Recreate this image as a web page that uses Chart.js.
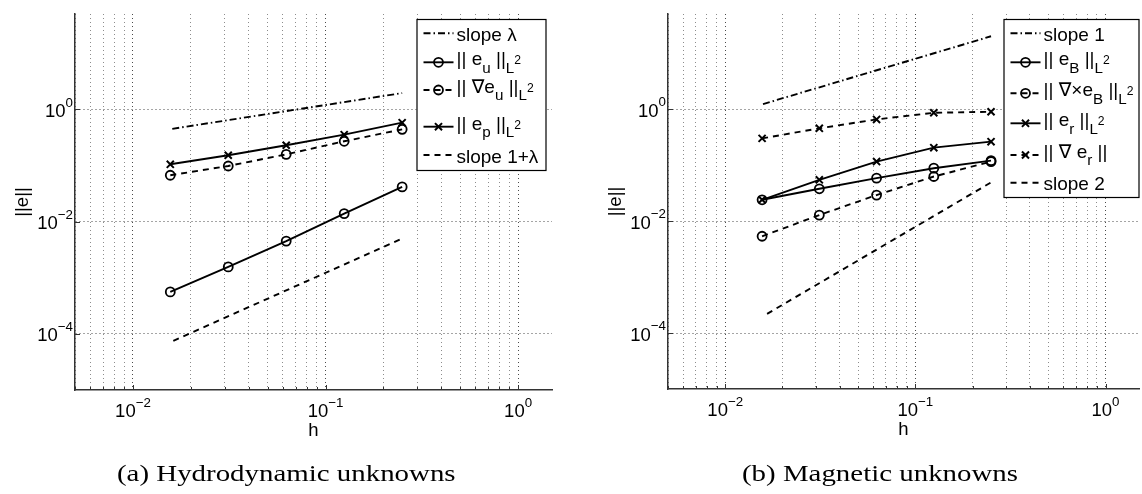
<!DOCTYPE html>
<html>
<head>
<meta charset="utf-8">
<script src="https://cdn.jsdelivr.net/npm/chart.js@4.4.0/dist/chart.umd.min.js"></script>
<style>
    html, body { margin: 0; padding: 0; background: #fff; width: 1142px; height: 494px; overflow: hidden; }
    canvas { position: absolute; top: 0; }
    #chartA { left: 0; }
    #chartB { left: 571px; }
    .caption {
        position: absolute; top: 463px; display: inline-block; white-space: nowrap;
        font-family: "Liberation Serif", "DejaVu Serif", serif; font-size: 22.5px; line-height: 1;
        color: #000; transform-origin: 0 0;
    }
</style>
</head>
<body>
<canvas id="chartA" width="571" height="494"></canvas>
<canvas id="chartB" width="575" height="494"></canvas>
<span class="caption" id="capA" style="left:117px">(a) Hydrodynamic unknowns</span>
<span class="caption" id="capB" style="left:740px">(b) Magnetic unknowns</span>
<script>
// mesh sizes h
const hValues = [0.015625, 0.03125, 0.0625, 0.125, 0.25];

// (a) hydrodynamic unknowns
const euL2 = [5.6e-4, 1.56e-3, 4.5e-3, 0.0139, 0.0415];
const gradEuL2 = [0.067, 0.098, 0.158, 0.27, 0.44];
const epL2 = [0.105, 0.152, 0.229, 0.354, 0.58];
const slopeLambdaH = [0.016, 0.25];
const slopeLambda = [0.45, 1.95];
const slopeOnePlusLambdaH = [0.0162, 0.25];
const slopeOnePlusLambda = [7.5e-5, 5.0e-3];

// (b) magnetic unknowns
const eBL2 = [0.024, 0.0377, 0.0584, 0.088, 0.12];
const curlEBL2 = [0.00535, 0.0128, 0.0291, 0.0625, 0.115];
const erL2 = [0.024, 0.0546, 0.1156, 0.205, 0.262];
const gradEr = [0.30, 0.453, 0.655, 0.86, 0.897];
const slopeOneH = [0.0158, 0.25];
const slopeOne = [1.23, 20];
const slopeTwoH = [0.0166, 0.25];
const slopeTwo = [2.2e-4, 0.049];

// legend texts (_ = subscript, ^ = superscript)
const labelsA = ['slope λ', '|| e_u ||_{L^2}', '|| ∇e_u ||_{L^2}', '|| e_p ||_{L^2}', 'slope 1+λ'];
const labelsB = ['slope 1', '|| e_B ||_{L^2}', '|| ∇×e_B ||_{L^2}', '|| e_r ||_{L^2}', '|| ∇ e_r ||', 'slope 2'];

// axes
const xMajorTicks = [0.01, 0.1, 1];
const xTickLabels = ['10^{−2}', '10^{−1}', '10^{0}'];
const yMajorTicks = [1e-4, 1e-2, 1];
const yTickLabels = ['10^{−4}', '10^{−2}', '10^{0}'];
const xTitle = 'h';
const yTitle = '||e||';

const FONT = '"Liberation Sans", Arial, "DejaVu Sans", sans-serif';
const DASH = [6, 5];
const DASH_DOT = [7, 3, 1.5, 3];

function parseTex(str) {
    const out = [];
    function walk(s, path) {
        let i = 0, buf = '';
        const flush = () => { if (buf) { out.push({ text: buf, path }); buf = ''; } };
        while (i < s.length) {
            const c = s[i];
            if (c === '_' || c === '^') {
                flush();
                const kind = c === '_' ? 'sub' : 'sup';
                i++;
                let arg;
                if (s[i] === '{') {
                    let depth = 1, j = i + 1;
                    while (j < s.length && depth) {
                        if (s[j] === '{') depth++;
                        else if (s[j] === '}') depth--;
                        j++;
                    }
                    arg = s.slice(i + 1, j - 1);
                    i = j;
                } else {
                    arg = s[i];
                    i++;
                }
                walk(arg, path.concat(kind));
            } else {
                buf += c;
                i++;
            }
        }
        flush();
    }
    walk(str, []);
    return out;
}

// draws "a_b^c" style text; ratio = size factor for each script level
function drawTex(ctx, str, x, y, size, align, ratio = 0.72) {
    const parts = parseTex(str).map(p => {
        let s = size, dy = 0;
        p.path.forEach(k => {
            dy += k === 'sub' ? 0.38 * s : -0.55 * s;
            s *= ratio;
        });
        ctx.font = `${s}px ${FONT}`;
        return { text: p.text, size: s, dy, w: ctx.measureText(p.text).width };
    });
    const total = parts.reduce((a, p) => a + p.w, 0);
    let cx = align === 'center' ? x - total / 2 : align === 'right' ? x - total : x;
    ctx.textAlign = 'left';
    ctx.textBaseline = 'alphabetic';
    parts.forEach(p => {
        ctx.font = `${p.size}px ${FONT}`;
        ctx.fillText(p.text, cx, y + p.dy);
        cx += p.w;
    });
    return total;
}

function drawMarker(ctx, marker, x, y) {
    if (!marker) return;
    ctx.setLineDash([]);
    ctx.beginPath();
    if (marker === 'o') {
        ctx.lineWidth = 1.8;
        ctx.arc(x, y, 4.5, 0, Math.PI * 2);
    } else {
        ctx.lineWidth = 2;
        const d = 5 * Math.SQRT1_2;
        ctx.moveTo(x - d, y - d); ctx.lineTo(x + d, y + d);
        ctx.moveTo(x - d, y + d); ctx.lineTo(x + d, y - d);
    }
    ctx.stroke();
}

function makeSet(label, xs, ys, dash, marker) {
    return {
        label,
        marker,
        data: xs.map((x, i) => ({ x, y: ys[i] })),
        showLine: true,
        borderColor: '#000',
        borderWidth: 1.9,
        borderDash: dash,
        pointStyle: marker === 'x' ? 'crossRot' : 'circle',
        pointRadius: marker ? (marker === 'x' ? 5 : 4.5) : 0,
        pointBorderWidth: marker === 'x' ? 2 : 1.8,
        pointBackgroundColor: 'rgba(0,0,0,0)',
        pointBorderColor: '#000',
        pointHoverRadius: 0
    };
}

function logGridTicks(min, max) {
    const ticks = [];
    for (let e = Math.floor(Math.log10(min)); e <= Math.ceil(Math.log10(max)); e++) {
        for (let m = 1; m <= 9; m++) {
            const v = m * Math.pow(10, e);
            if (v >= min * 0.999 && v <= max * 1.001) ticks.push({ value: v, major: m === 1 });
        }
    }
    return ticks;
}

const decorPlugin = {
    id: 'decor',
    afterDraw(chart, args, opts) {
        const ctx = chart.ctx;
        const { left, right, top, bottom } = chart.chartArea;
        const xs = chart.scales.x, ys = chart.scales.y;
        ctx.save();

        // inward tick marks
        ctx.strokeStyle = '#333';
        ctx.lineWidth = 1;
        ctx.beginPath();
        xs.ticks.forEach(t => {
            const px = Math.round(xs.getPixelForValue(t.value)) + 0.5;
            ctx.moveTo(px, bottom);
            ctx.lineTo(px, bottom - (t.major ? 5 : 3));
        });
        yMajorTicks.forEach(v => {
            const py = Math.round(ys.getPixelForValue(v)) + 0.5;
            ctx.moveTo(left, py);
            ctx.lineTo(left + 5, py);
        });
        ctx.stroke();

        // tick labels and titles
        ctx.fillStyle = '#000';
        xMajorTicks.forEach((v, i) => drawTex(ctx, xTickLabels[i], xs.getPixelForValue(v), bottom + 27, 18.5, 'center'));
        yMajorTicks.forEach((v, i) => drawTex(ctx, yTickLabels[i], left - 2, ys.getPixelForValue(v) + 7.5, 18.5, 'right'));
        drawTex(ctx, xTitle, (left + right) / 2, bottom + 46, 18.5, 'center');
        ctx.save();
        ctx.translate(left - 47, (top + bottom) / 2);
        ctx.rotate(-Math.PI / 2);
        drawTex(ctx, yTitle, 0, 0, 18.5, 'center');
        ctx.restore();

        // legend box
        const lg = opts.legend;
        ctx.fillStyle = '#fff';
        ctx.fillRect(lg.x, lg.y, lg.w, lg.h);
        ctx.strokeStyle = '#000';
        ctx.lineWidth = 1.2;
        ctx.strokeRect(lg.x + 0.5, lg.y + 0.5, lg.w, lg.h);
        chart.data.datasets.forEach((ds, i) => {
            const cy = lg.y + lg.rows[i];
            ctx.strokeStyle = '#000';
            ctx.lineWidth = 1.9;
            ctx.setLineDash(ds.borderDash);
            ctx.beginPath();
            ctx.moveTo(lg.x + 7, cy);
            ctx.lineTo(lg.x + 37, cy);
            ctx.stroke();
            drawMarker(ctx, ds.marker, lg.x + 22, cy);
            ctx.fillStyle = '#000';
            drawTex(ctx, ds.label, lg.x + 40, cy + (ds.label.includes('_') ? 3 : 7.5), 19, 'left', 0.8);
        });
        ctx.restore();
    }
};

function makeChart(canvasId, datasets, padding, legend) {
    const gridColor = c => (c.tick && c.tick.major ? '#4a4a4a' : '#8c8c8c');
    return new Chart(document.getElementById(canvasId), {
        type: 'scatter',
        data: { datasets },
        options: {
            responsive: false,
            animation: false,
            devicePixelRatio: 1,
            layout: { padding },
            events: [],
            plugins: {
                legend: { display: false },
                tooltip: { enabled: false },
                decor: { legend }
            },
            scales: {
                x: {
                    type: 'logarithmic',
                    bounds: 'data',
                    min: 0.005,
                    max: 1.5,
                    afterBuildTicks: s => { s.ticks = logGridTicks(0.005, 1.5); },
                    afterFit: s => { s.height = 0; },
                    ticks: { display: false },
                    grid: { drawTicks: false, color: gridColor, lineWidth: 1 },
                    border: { display: true, color: '#333', width: 1.5, dash: [1, 3] }
                },
                y: {
                    type: 'logarithmic',
                    bounds: 'data',
                    min: 1e-5,
                    max: 50,
                    afterBuildTicks: s => { s.ticks = yMajorTicks.map(v => ({ value: v, major: true })); },
                    afterFit: s => { s.width = 0; },
                    ticks: { display: false },
                    grid: { drawTicks: false, color: gridColor, lineWidth: 1 },
                    border: { display: true, color: '#333', width: 1.5, dash: [1, 3] }
                }
            }
        },
        plugins: [decorPlugin]
    });
}

const datasetsA = [
    makeSet(labelsA[0], slopeLambdaH, slopeLambda, DASH_DOT, null),
    makeSet(labelsA[1], hValues, euL2, [], 'o'),
    makeSet(labelsA[2], hValues, gradEuL2, DASH, 'o'),
    makeSet(labelsA[3], hValues, epL2, [], 'x'),
    makeSet(labelsA[4], slopeOnePlusLambdaH, slopeOnePlusLambda, DASH, null)
];

const datasetsB = [
    makeSet(labelsB[0], slopeOneH, slopeOne, DASH_DOT, null),
    makeSet(labelsB[1], hValues, eBL2, [], 'o'),
    makeSet(labelsB[2], hValues, curlEBL2, DASH, 'o'),
    makeSet(labelsB[3], hValues, erL2, [], 'x'),
    makeSet(labelsB[4], hValues, gradEr, DASH, 'x'),
    makeSet(labelsB[5], slopeTwoH, slopeTwo, DASH, null)
];

makeChart('chartA', datasetsA,
    { left: 75, right: 19, top: 14, bottom: 104 },
    { x: 416.5, y: 19, w: 129, h: 151, rows: [14.3, 43.3, 71, 107.7, 136] });

makeChart('chartB', datasetsB,
    { left: 97, right: 2, top: 14, bottom: 105 },
    { x: 432.5, y: 19, w: 135, h: 178, rows: [14.3, 43.3, 74.3, 104.3, 136, 163.7] });

// captions: stretch the serif text to the width of the original captions
const capA = document.getElementById('capA');
const capB = document.getElementById('capB');
const k = 339 / capA.offsetWidth;
[capA, capB].forEach(el => { el.style.transform = `scaleX(${k})`; });
capB.style.left = (1018 - capB.offsetWidth * k) + 'px';
</script>
</body>
</html>
